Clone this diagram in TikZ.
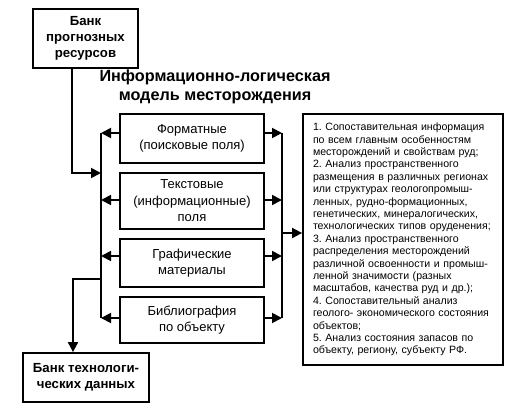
\documentclass[tikz,border=0pt]{standalone}
\usepackage{fontspec}
\setmainfont{Liberation Sans}
\usetikzlibrary{arrows.meta}
\frenchspacing
\begin{document}
\begin{tikzpicture}[x=1pt,y=-1pt,
  ln/.style={line width=1.8pt},
  arr/.style={line width=1.8pt,-{Triangle[length=10pt,width=10pt]}},
  bank/.style={draw,line width=1.8pt,align=center,font=\fontsize{13.2}{16}\selectfont\bfseries,inner sep=0pt},
  part/.style={draw,line width=1.8pt,align=center,font=\fontsize{13}{16.5}\selectfont,inner sep=0pt,minimum width=144pt},
  titlefont/.style={font=\fontsize{16.2}{18.5}\selectfont\bfseries,align=center}]
\useasboundingbox[fill=white] (0,0) rectangle (514,415);
% banks
\node[bank,minimum width=105pt,minimum height=59pt] (B1) at (85.5,38.5) {Банк\\прогнозных\\ресурсов};
\node[bank,minimum width=126pt,minimum height=49pt] (B2) at (86,377.5) {Банк технологи-\\ческих данных};
% title
\node[titlefont] (T) at (215,87) {Информационно-логическая\\модель месторождения};
% parts
\node[part,minimum height=49pt] (f1) at (192,138.5) {Форматные\\(поисковые поля)};
\node[part,minimum height=56pt] (f2) at (192,201) {Текстовые\\(информационные)\\поля};
\node[part,minimum height=48pt] (f3) at (192,263) {Графические\\материалы};
\node[part,minimum height=46pt] (f4) at (192,320) {Библиография\\по объекту};
% info box
\node[draw,line width=1.8pt,minimum width=200pt,minimum height=251pt,text width=180pt,align=left,inner sep=0pt,
  font=\fontsize{10.6}{12.4}\selectfont] (I) at (403,239.5) {1. Сопоставительная информация\\
по всем главным особенностям\\
месторождений и свойствам руд;\\
2. Анализ пространственного\\
размещения в различных регионах\\
или структурах геологопромыш-\\
ленных, рудно-формационных,\\
генетических, минералогических,\\
технологических типов оруденения;\\
3. Анализ пространственного\\
распределения месторождений\\
различной освоенности и промыш-\\
ленной значимости (разных\\
масштабов, качества руд и др.);\\
4. Сопоставительный анализ\\
геолого- экономического состояния\\
объектов;\\
5. Анализ состояния запасов по\\
объекту, региону, субъекту РФ.};
% buses
\coordinate (l1) at (101,133);
\coordinate (l2) at (101,200);
\coordinate (l3) at (101,256);
\coordinate (l4) at (101,318);
\coordinate (r1) at (282,133);
\coordinate (r2) at (282,200);
\coordinate (r3) at (282,256);
\coordinate (r4) at (282,318);
\draw[ln] (l1) -- (l4);
\draw[ln] (r1) -- (r4);
\foreach \i in {1,2,3,4}{
  \draw[arr] (f\i.west |- l\i) -- (l\i);
  \draw[arr] (f\i.east |- r\i) -- (r\i);
}
% input from top bank
\coordinate (m) at (72,173);
\coordinate (lin) at (101,173);
\draw[arr] (B1.south -| m) -- (m) -- (lin);
% output to info
\coordinate (rm) at (282,233);
\draw[arr] (rm) -- (I.west |- rm);
% output to bottom bank
\coordinate (lo) at (101,279);
\coordinate (k) at (73,279);
\draw[arr] (lo) -- (k) -- (B2.north -| k);
\end{tikzpicture}
\end{document}
